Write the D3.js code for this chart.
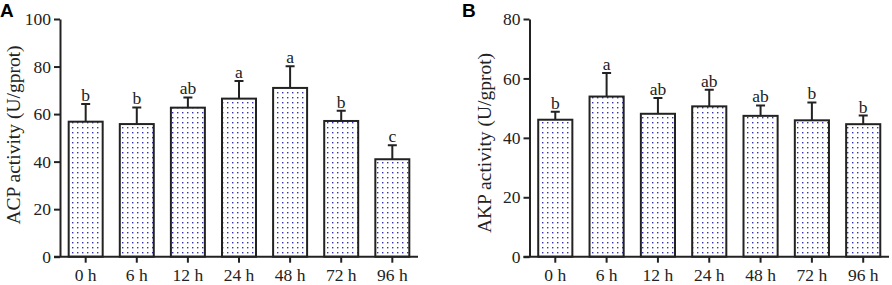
<!DOCTYPE html>
<html><head><meta charset="utf-8">
<script src="https://cdn.jsdelivr.net/npm/d3@7"></script>
<style>body{margin:0;background:#fff}svg{display:block}</style>
</head><body>
<svg id="c" width="892" height="285"></svg>
<script>
const categories = ["0 h","6 h","12 h","24 h","48 h","72 h","96 h"];
const acpMean = [56.8, 55.8, 62.7, 66.5, 71.0, 57.1, 41.0];
const acpErr  = [7.4, 7.0, 4.3, 7.4, 9.1, 4.3, 5.9];
const acpLetters = ["b","b","ab","a","a","b","c"];
const akpMean = [46.1, 53.9, 48.1, 50.6, 47.4, 45.9, 44.6];
const akpErr  = [2.7, 7.9, 5.3, 5.6, 3.5, 6.0, 2.9];
const akpLetters = ["b","a","ab","ab","ab","b","b"];
const acpTicks = [0,20,40,60,80,100];
const akpTicks = [0,20,40,60,80];

const svg = d3.select("#c");
const defs = svg.append("defs");
const pat = defs.append("pattern").attr("id","dots").attr("patternUnits","userSpaceOnUse")
  .attr("width",5).attr("height",5);
pat.append("rect").attr("width",5).attr("height",5).attr("fill","#fff");
pat.append("rect").attr("x",2).attr("y",2).attr("width",1.4).attr("height",1.4).attr("fill","#3535b0");

const serif = "Liberation Serif, Times New Roman, serif";
function panel(o){
  const g = svg.append("g");
  const x = d3.scaleBand().domain(categories).range([o.x0, o.x1]).paddingInner(0.335).paddingOuter(0.17);
  const y = d3.scaleLinear().domain([0, o.max]).range([256.7, 19]);
  g.selectAll("rect.bar").data(o.mean).join("rect").attr("class","bar")
    .attr("x",(d,i)=>x(categories[i])).attr("width",x.bandwidth())
    .attr("y",d=>y(d)).attr("height",d=>y(0)-y(d))
    .attr("fill","url(#dots)").attr("stroke","#222").attr("stroke-width",2);
  g.selectAll("path.err").data(o.mean).join("path").attr("class","err")
    .attr("d",(d,i)=>{const cx=x(categories[i])+x.bandwidth()/2; const t=y(d+o.err[i]);
      return `M${cx},${y(d)}V${t}M${cx-4.5},${t}H${cx+4.5}`;})
    .attr("stroke","#222").attr("stroke-width",2).attr("fill","none");
  g.selectAll("text.let").data(o.mean).join("text").attr("class","let")
    .attr("x",(d,i)=>x(categories[i])+x.bandwidth()/2).attr("y",(d,i)=>y(d+o.err[i])-3)
    .attr("text-anchor","middle").attr("font-family",serif).attr("font-size",17.5).attr("fill","#222")
    .text((d,i)=>o.letters[i]);
  const ya = g.append("g").attr("transform",`translate(${o.x0},0)`)
    .call(d3.axisLeft(y).tickValues(o.ticks).tickSize(6).tickPadding(3).tickSizeOuter(0));
  ya.select(".domain").attr("stroke-width",2).attr("stroke","#222");
  ya.selectAll(".tick line").attr("stroke-width",2).attr("stroke","#222");
  ya.selectAll(".tick text").attr("font-family",serif).attr("font-size",17.5).attr("fill","#222");
  const xa = g.append("g").attr("transform",`translate(0,${y(0)})`)
    .call(d3.axisBottom(x).tickSize(6).tickPadding(6).tickSizeOuter(0));
  xa.select(".domain").attr("d",`M${o.x0-6},0H${o.x1}`).attr("stroke-width",2).attr("stroke","#222");
  xa.selectAll(".tick line").attr("stroke-width",2).attr("stroke","#222");
  xa.selectAll(".tick text").attr("font-family",serif).attr("font-size",17.5).attr("fill","#222");
  g.append("text").attr("transform",`translate(${o.tx},${o.ty}) rotate(-90)`)
    .attr("text-anchor","middle").attr("font-family",serif).attr("font-size",19.5)
    .attr("fill","#222").text(o.title);
  g.append("text").attr("x",o.lx).attr("y",17).attr("font-family","Liberation Sans, Arial, sans-serif")
    .attr("font-weight","bold").attr("font-size",19).text(o.letter);
}
panel({x0:60,x1:418,max:100,ticks:acpTicks,mean:acpMean,err:acpErr,letters:acpLetters,
  title:"ACP activity (U/gprot)",tx:20,ty:135,letter:"A",lx:0});
panel({x0:529.5,x1:889,max:80,ticks:akpTicks,mean:akpMean,err:akpErr,letters:akpLetters,
  title:"AKP activity (U/gprot)",tx:491,ty:143,letter:"B",lx:462});
</script>
</body></html>
